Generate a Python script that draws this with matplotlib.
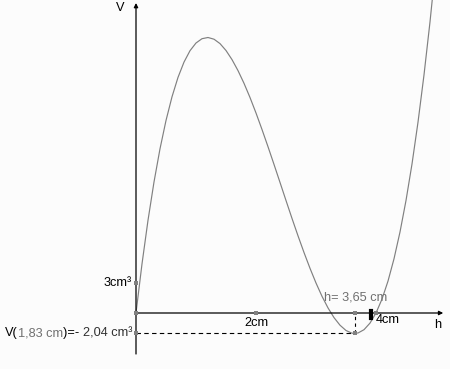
import matplotlib
matplotlib.use("Agg")
import matplotlib.pyplot as plt

plt.rcParams['font.family'] = ['Liberation Sans', 'DejaVu Sans']

# curve (h in cm, V in cm³)
h_vals = [0.0, 0.1, 0.2, 0.3, 0.4, 0.5, 0.6, 0.7, 0.8, 0.9,
          1.0, 1.1, 1.2, 1.3, 1.4, 1.5, 1.6, 1.7, 1.8, 1.9,
          2.0, 2.1, 2.2, 2.3, 2.4, 2.5, 2.6, 2.7, 2.8, 2.9,
          3.0, 3.1, 3.2, 3.3, 3.4, 3.5, 3.6, 3.7, 3.8, 3.9,
          4.0, 4.1, 4.2, 4.3, 4.4, 4.5, 4.6, 4.7, 4.8, 4.9, 5.0]
v_vals = [0.0, 4.91, 9.27, 13.10, 16.42, 19.25, 21.62, 23.56, 25.09, 26.23,
          27.0, 27.43, 27.55, 27.38, 26.94, 26.25, 25.34, 24.24, 22.97, 21.55,
          20.0, 18.35, 16.63, 14.86, 13.06, 11.25, 9.46, 7.72, 6.05, 4.47,
          3.0, 1.67, 0.51, -0.46, -1.22, -1.75, -2.02, -2.0, -1.67, -1.01,
          0.0, 1.39, 3.19, 5.42, 8.10, 11.25, 14.90, 19.08, 23.81, 29.11, 35.0]

h_min = 3.65
v_min = -2.04
marked = [(0, 3), (0, 0), (0, v_min), (2, 0), (4, 0), (h_min, v_min), (h_min, 0)]

fig = plt.figure(figsize=(4.5, 3.69), dpi=100)
fig.patch.set_facecolor('#fcfcfc')
ax = fig.add_axes([0, 0, 1, 1])
ax.set_facecolor('#fcfcfc')
ax.set_xlim(-136 / 60, 314 / 60)
ax.set_ylim(-5.6, 31.3)
ax.axis('off')

# axes with arrows
ax.annotate('', xy=(0, 31.0), xytext=(0, -4.1),
            arrowprops=dict(arrowstyle='-|>', color='black', lw=0.9,
                            mutation_scale=6, shrinkA=0, shrinkB=0))
ax.annotate('', xy=(5.12, 0), xytext=(0, 0),
            arrowprops=dict(arrowstyle='-|>', color='black', lw=0.9,
                            mutation_scale=6, shrinkA=0, shrinkB=0))

ax.plot(h_vals, v_vals, color='#808080', lw=0.85)

ax.plot([0, h_min], [v_min, v_min], color='black', lw=0.8, ls=(0, (4, 3)))
ax.plot([h_min, h_min], [v_min, 0], color='black', lw=0.8, ls=(0, (3, 3)))

for px, py in marked:
    ax.plot(px, py, 's', color='#808080', ms=3, mew=0, zorder=5)

fs = 9.2
ax.text(-0.27, 30.5, 'V', fontsize=fs, ha='center', va='center')
ax.text(5.02, -1.2, 'h', fontsize=fs, ha='center', va='center')
ax.text(-0.07, 3, '3cm³', fontsize=fs, ha='right', va='center')
ax.text(2, -1.0, '2cm', fontsize=fs, ha='center', va='center')
ax.text(4.0, -0.7, '4cm', fontsize=fs, ha='left', va='center')
ax.text(3.13, 1.5, 'h= 3,65 cm', fontsize=fs, ha='left', va='center', color='#707070')

# small black bar of the cursor next to the minimum
ax.plot([3.91, 3.91], [-0.5, 0.2], color='black', lw=3)

# mixed colour label V(1,83 cm)=- 2,04 cm³
parts = [('V(', 'black'), ('1,83 cm', '#707070'), (')=- ', 'black'), ('2,04 cm³', '#303030')]
t = ax.text(-131 / 60, v_min, parts[0][0], fontsize=fs, ha='left', va='center', color=parts[0][1])
for s, c in parts[1:]:
    t = ax.annotate(s, xy=(1, 0), xycoords=t, va='bottom', ha='left',
                    fontsize=fs, color=c)

fig.savefig('out.png', dpi=100, facecolor=fig.get_facecolor())
